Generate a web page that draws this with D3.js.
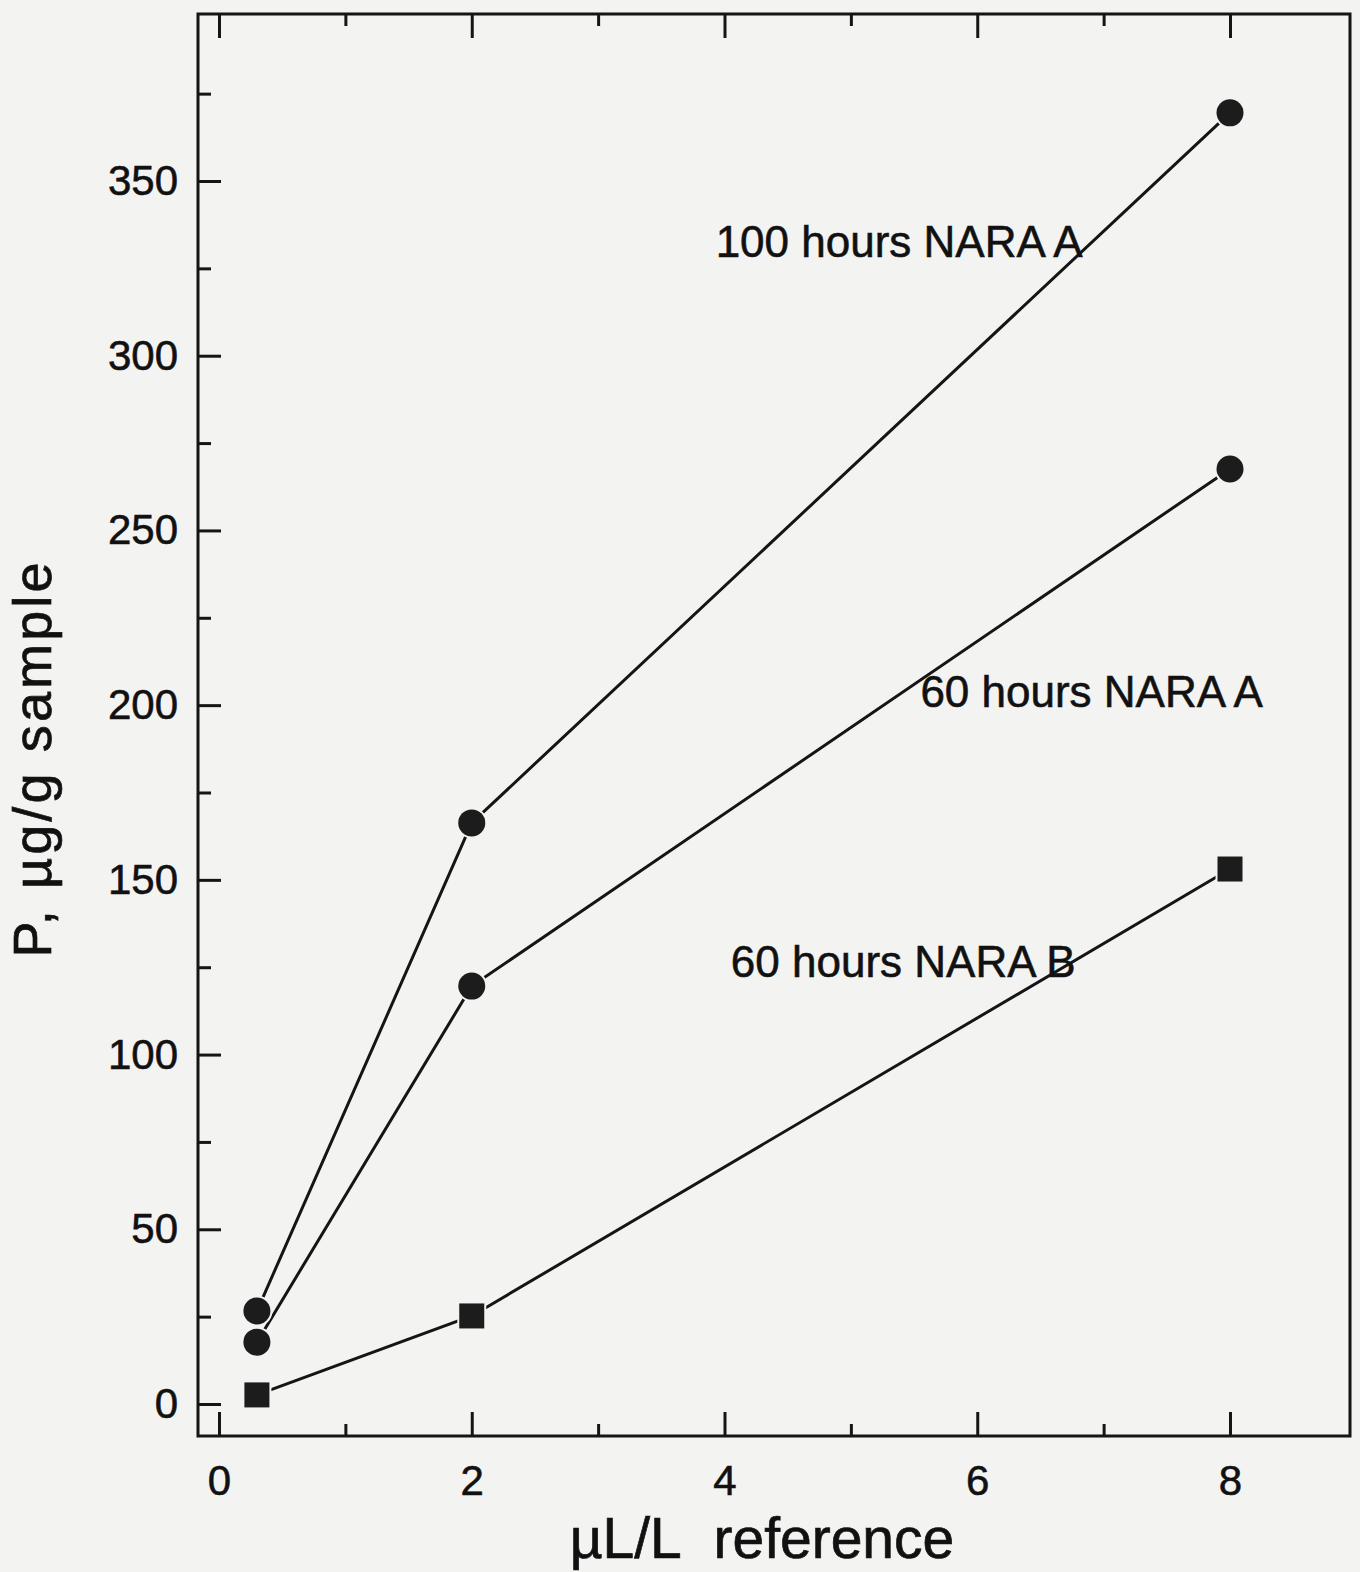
<!DOCTYPE html>
<html>
<head>
<meta charset="utf-8">
<script src="https://cdn.jsdelivr.net/npm/d3@7"></script>
<style>
  html, body { margin: 0; padding: 0; background: #f3f3f2; }
  svg { display: block; }
  text { font-family: "Liberation Sans", Arial, Helvetica, sans-serif; fill: #111; }
</style>
</head>
<body>
<svg id="chart" width="1360" height="1572"></svg>
<script>
// Concentration of reference (µL/L) at which each sample set was measured
const concentrations = [0.3, 2, 8];

// Phosphorus uptake, µg/g sample
const series100hA = [26.6, 166.3, 369.5];
const series60hA  = [17.7, 119.6, 267.6];
const series60hB  = [2.6, 25.2, 153.1];

const seriesNames = ["100 hours NARA A", "60 hours NARA A", "60 hours NARA B"];
const seriesShapes = ["circle", "circle", "square"];

const xMajorTicks = [0, 2, 4, 6, 8];
const xMinorTicks = [1, 3, 5, 7];
const yMajorTicks = [0, 50, 100, 150, 200, 250, 300, 350];
const yMinorTicks = [25, 75, 125, 175, 225, 275, 325, 375];

const xTitle = "\u00B5L/L\u00A0 reference";
const yTitle = "P, \u00B5g/g sample";

const series = [series100hA, series60hA, series60hB].map((vals, i) => ({
  name: seriesNames[i],
  shape: seriesShapes[i],
  points: concentrations.map((c, j) => ({ x: c, y: vals[j] }))
}));

const bg = "#f3f3f2";
const ink = "#151515";

const frame = { left: 198, right: 1350, top: 14, bottom: 1436 };

const x = d3.scaleLinear().domain([0, 8]).range([219, 1230]);
const y = d3.scaleLinear().domain([0, 350]).range([1404, 181]);

const svg = d3.select("#chart");

svg.append("rect").attr("width", 1360).attr("height", 1572).attr("fill", bg);

// Plot frame
svg.append("rect")
  .attr("x", frame.left).attr("y", frame.top)
  .attr("width", frame.right - frame.left)
  .attr("height", frame.bottom - frame.top)
  .attr("fill", "none").attr("stroke", ink).attr("stroke-width", 3);

// Bottom axis: inward ticks, labels below
const xAxisBottom = d3.axisBottom(x).tickValues(xMajorTicks).tickSize(-24).tickFormat(d3.format("d"));
const gxb = svg.append("g").attr("transform", `translate(0,${frame.bottom})`).call(xAxisBottom);
gxb.append("g").call(d3.axisBottom(x).tickValues(xMinorTicks).tickSize(-12).tickFormat(""));

// Top axis: inward ticks, no labels
const gxt = svg.append("g").attr("transform", `translate(0,${frame.top})`);
gxt.call(d3.axisTop(x).tickValues(xMajorTicks).tickSize(-24).tickFormat(""));
gxt.append("g").call(d3.axisTop(x).tickValues(xMinorTicks).tickSize(-12).tickFormat(""));

// Left axis: inward ticks, labels outside
const gyl = svg.append("g").attr("transform", `translate(${frame.left},0)`);
gyl.call(d3.axisLeft(y).tickValues(yMajorTicks).tickSize(-23));
gyl.append("g").call(d3.axisLeft(y).tickValues(yMinorTicks).tickSize(-13).tickFormat(""));

svg.selectAll(".domain").remove();
svg.selectAll(".tick line").attr("stroke", ink).attr("stroke-width", 3);
svg.selectAll(".tick text")
  .attr("font-family", "Liberation Sans, Arial, sans-serif")
  .attr("font-size", 42)
  .attr("fill", ink)
  .attr("stroke", ink).attr("stroke-width", 0.6);
gxb.selectAll(".tick text").attr("dy", null).attr("y", 59);
gyl.selectAll(".tick text").attr("x", -20);

// Series lines
const line = d3.line().x(d => x(d.x)).y(d => y(d.y));
const gs = svg.append("g");
series.forEach(s => {
  gs.append("path")
    .datum(s.points)
    .attr("d", line)
    .attr("fill", "none")
    .attr("stroke", ink)
    .attr("stroke-width", 3);
});

// Markers with a small halo that breaks the line
series.forEach(s => {
  const g = gs.append("g");
  if (s.shape === "circle") {
    g.selectAll("circle").data(s.points).join("circle")
      .attr("cx", d => x(d.x)).attr("cy", d => y(d.y)).attr("r", 13.5)
      .attr("fill", "#1c1c1c").attr("stroke", bg).attr("stroke-width", 4)
      .attr("paint-order", "stroke");
  } else {
    const side = 25;
    g.selectAll("rect").data(s.points).join("rect")
      .attr("x", d => x(d.x) - side / 2).attr("y", d => y(d.y) - side / 2)
      .attr("width", side).attr("height", side)
      .attr("fill", "#1c1c1c").attr("stroke", bg).attr("stroke-width", 4)
      .attr("paint-order", "stroke");
  }
});

// Series labels, anchored in data space
const labelAnchors = [
  { name: seriesNames[0], x: 3.93, y: 328.3 },
  { name: seriesNames[1], x: 5.55, y: 199.5 },
  { name: seriesNames[2], x: 4.05, y: 122.2 }
];
svg.append("g").selectAll("text").data(labelAnchors).join("text")
  .attr("x", d => x(d.x)).attr("y", d => y(d.y))
  .attr("font-size", 44)
  .attr("stroke", ink).attr("stroke-width", 0.6)
  .text(d => d.name);

// Axis titles
svg.append("text")
  .attr("x", 762).attr("y", 1558)
  .attr("text-anchor", "middle")
  .attr("font-size", 57)
  .attr("stroke", ink).attr("stroke-width", 0.7)
  .text(xTitle);

svg.append("text")
  .attr("transform", "translate(51,760) rotate(-90)")
  .attr("text-anchor", "middle")
  .attr("font-size", 54)
  .attr("stroke", ink).attr("stroke-width", 0.7)
  .attr("textLength", 395).attr("lengthAdjust", "spacing")
  .text(yTitle);
</script>
</body>
</html>
